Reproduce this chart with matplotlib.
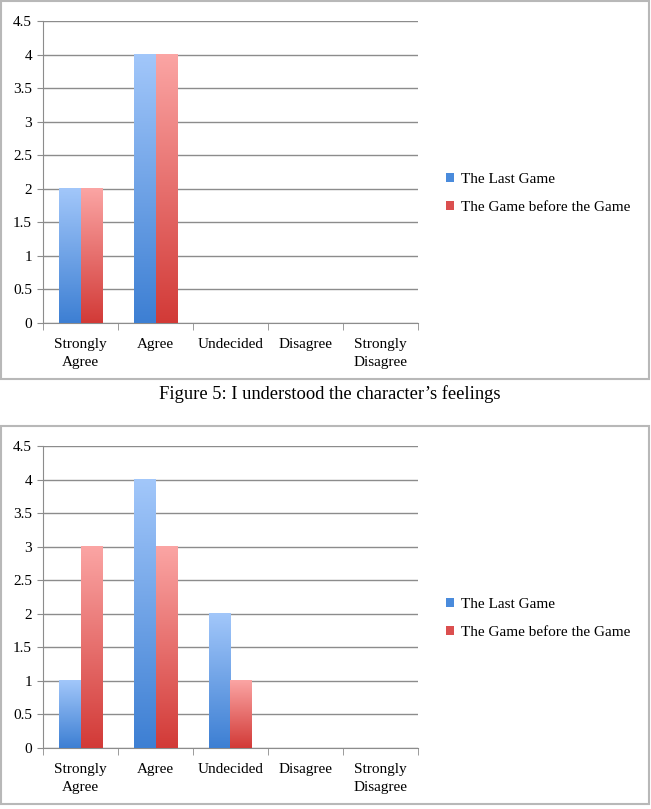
import numpy as np
import matplotlib
matplotlib.use("Agg")
import matplotlib.pyplot as plt
from matplotlib.colors import LinearSegmentedColormap
from matplotlib.patches import Rectangle, Patch

# data
categories = ["Strongly\nAgree", "Agree", "Undecided", "Disagree", "Strongly\nDisagree"]
series_names = ["The Last Game", "The Game before the Game"]
fig5_last = [2, 4, 0, 0, 0]
fig5_before = [2, 4, 0, 0, 0]
fig6_last = [1, 4, 2, 0, 0]
fig6_before = [3, 3, 1, 0, 0]
caption = "Figure 5: I understood the character\u2019s feelings"

plt.rcParams['font.family'] = ['Liberation Serif', 'DejaVu Serif']

W, H = 651, 809
fig = plt.figure(figsize=(W / 100, H / 100), dpi=100)

blue_cm = LinearSegmentedColormap.from_list("b", ["#3d7fd3", "#a2c7fa"])
red_cm = LinearSegmentedColormap.from_list("r", ["#d23a37", "#fba5a4"])
grid_col = "#8c8c8c"
box_col = "#b8b8b8"


def px_rect(x0, y0, x1, y1):
    # pixel box (top-left origin) -> figure fraction
    return [x0 / W, 1 - y1 / H, (x1 - x0) / W, (y1 - y0) / H]


def draw_chart(top, last, before):
    # outer frame
    fig.patches.append(Rectangle((1 / W, 1 - (top + 379) / H), 648 / W, 378 / H,
                                 transform=fig.transFigure, fill=False,
                                 edgecolor=box_col, linewidth=1.5))
    ax = fig.add_axes(px_rect(43, top + 21, 418, top + 323))
    x = np.arange(len(categories))
    w = 0.285
    b1 = ax.bar(x - w / 2, last, w, color="#4a8bdc")
    b2 = ax.bar(x + w / 2, before, w, color="#db4f4f")
    grad = np.linspace(0, 1, 256).reshape(-1, 1)
    for bars, cm in ((b1, blue_cm), (b2, red_cm)):
        for r in bars:
            h = r.get_height()
            r.set_visible(False)
            if h <= 0:
                continue
            ax.imshow(grad, cmap=cm, origin="lower", aspect="auto",
                      extent=[r.get_x(), r.get_x() + r.get_width(), 0, h], zorder=3)
    ax.set_xlim(-0.5, len(categories) - 0.5)
    ax.set_ylim(0, 4.5)
    ax.set_yticks(np.arange(0, 4.51, 0.5))
    ax.set_yticklabels([f"{v:g}" for v in np.arange(0, 4.51, 0.5)], fontsize=11)
    ax.yaxis.grid(True, color=grid_col, linewidth=1)
    ax.set_axisbelow(True)
    ax.set_xticks(x)
    ax.set_xticklabels(categories, fontsize=11, linespacing=1.5)
    ax.set_xticks(np.arange(-0.5, len(categories)), minor=True)
    ax.tick_params(axis="x", which="major", length=0, pad=11)
    ax.tick_params(axis="x", which="minor", length=5, color=grid_col)
    ax.tick_params(axis="y", length=4, color=grid_col, pad=4)
    for s in ("top", "right"):
        ax.spines[s].set_visible(False)
    for s in ("left", "bottom"):
        ax.spines[s].set_color(grid_col)
    handles = [Patch(facecolor="#4a8bdc"), Patch(facecolor="#db4f4f")]
    fig.legend(handles, series_names, loc="upper left",
               bbox_to_anchor=(440 / W, 1 - (top + 167) / H), frameon=False,
               fontsize=11, handlelength=0.5, handleheight=0.5,
               handletextpad=0.45, labelspacing=0.95, borderaxespad=0)
    return ax


draw_chart(0, fig5_last, fig5_before)
fig.text(330 / W, 1 - 394 / H, caption, ha="center", va="center", fontsize=13.3)
draw_chart(425, fig6_last, fig6_before)

fig.savefig("out.png", dpi=100)
